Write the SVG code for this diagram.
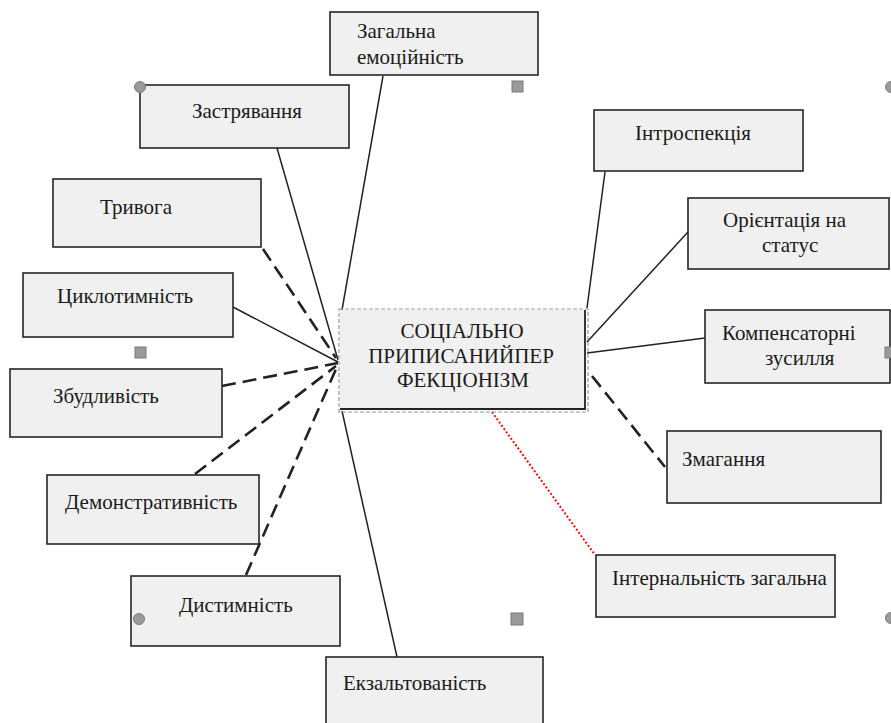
<svg xmlns="http://www.w3.org/2000/svg" width="891" height="723" viewBox="0 0 891 723">
<style>
.box{fill:#f0f0f0;stroke:#262626;stroke-width:1.6}
.t{font-family:"Liberation Serif","Times New Roman",serif;font-size:21px;fill:#1a1a1a}
.c{text-anchor:middle}
.solid{stroke:#222;stroke-width:1.5;fill:none}
.dash{stroke:#222;stroke-width:2.6;stroke-dasharray:14 7;fill:none}
.red{stroke:#f01010;stroke-width:2;stroke-dasharray:2 2;fill:none}
.h{fill:#9a9a9a;stroke:#7a7a7a;stroke-width:1}
</style>
<rect width="891" height="723" fill="#ffffff"/>
<g id="connectors">
<line class="solid" x1="383" y1="76" x2="342" y2="310"/>
<line class="solid" x1="277" y1="148" x2="338" y2="360"/>
<line class="dash" x1="263" y1="249" x2="336" y2="358"/>
<line class="solid" x1="233" y1="307" x2="338" y2="362"/>
<line class="dash" x1="222" y1="386" x2="338" y2="363"/>
<line class="dash" x1="195" y1="474" x2="336" y2="366"/>
<line class="dash" x1="246" y1="575" x2="336" y2="369"/>
<line class="solid" x1="342" y1="411" x2="397" y2="657"/>
<line class="solid" x1="605" y1="172" x2="587" y2="308"/>
<line class="solid" x1="688" y1="232" x2="587" y2="342"/>
<line class="solid" x1="705" y1="338" x2="587" y2="353"/>
<line class="dash" x1="592" y1="376" x2="665" y2="467"/>
<line class="red" x1="492" y1="412" x2="595" y2="555"/>
</g>
<g id="center">
<rect x="340" y="310" width="246" height="100" fill="#f0f0f0"/>
<polyline points="585,310 585,409 340,409" fill="none" stroke="#222" stroke-width="1.8"/>
<rect x="339" y="309" width="249" height="103" fill="none" stroke="#999" stroke-width="1.2" stroke-dasharray="4 2"/>
<text class="t c" x="462" y="338">СОЦІАЛЬНО</text>
<text class="t c" x="461" y="363">ПРИПИСАНИЙПЕР</text>
<text class="t c" x="463" y="387">ФЕКЦІОНІЗМ</text>
</g>
<g id="n-zagalna"><rect class="box" x="330" y="12" width="208" height="63"/><text class="t" x="357" y="38">Загальна</text><text class="t" x="357" y="64">емоційність</text></g>
<g id="n-zastryvannya"><rect class="box" x="140" y="85" width="209" height="63"/><text class="t" x="192" y="118">Застрявання</text></g>
<g id="n-tryvoga"><rect class="box" x="53" y="179" width="208" height="68"/><text class="t" x="100" y="214">Тривога</text></g>
<g id="n-tsyklotymnist"><rect class="box" x="23" y="273" width="210" height="64"/><text class="t" x="57" y="303">Циклотимність</text></g>
<g id="n-zbudlyvist"><rect class="box" x="10" y="369" width="212" height="68"/><text class="t" x="53" y="403">Збудливість</text></g>
<g id="n-demonstr"><rect class="box" x="47" y="475" width="212" height="69"/><text class="t" x="65" y="509">Демонстративність</text></g>
<g id="n-dystymnist"><rect class="box" x="131" y="576" width="209" height="70"/><text class="t" x="179" y="612">Дистимність</text></g>
<g id="n-ekzalt"><rect class="box" x="326" y="657" width="217" height="70"/><text class="t" x="343" y="690">Екзальтованість</text></g>
<g id="n-introspektsiya"><rect class="box" x="594" y="110" width="209" height="61"/><text class="t" x="635" y="140">Інтроспекція</text></g>
<g id="n-orientatsiya"><rect class="box" x="688" y="198" width="201" height="71"/><text class="t" x="723" y="227">Орієнтація на</text><text class="t" x="762" y="252">статус</text></g>
<g id="n-kompens"><rect class="box" x="705" y="310" width="185" height="73"/><text class="t" x="722" y="340">Компенсаторні</text><text class="t" x="765" y="365">зусилля</text></g>
<g id="n-zmagannya"><rect class="box" x="667" y="431" width="214" height="72"/><text class="t" x="682" y="466">Змагання</text></g>
<g id="n-internalnist"><rect class="box" x="596" y="555" width="239" height="62"/><text class="t" x="612" y="585">Інтернальність загальна</text></g>
<g id="handles">
<circle class="h" cx="140" cy="87" r="5.5"/>
<circle class="h" cx="891" cy="87" r="5.5"/>
<circle class="h" cx="139" cy="619" r="5.5"/>
<circle class="h" cx="891" cy="618" r="5.5"/>
<rect class="h" x="512" y="81" width="11" height="11"/>
<rect class="h" x="135" y="347" width="11" height="11"/>
<rect class="h" x="885" y="347" width="11" height="11"/>
<rect class="h" x="511" y="613" width="12" height="12"/>
</g>
</svg>
